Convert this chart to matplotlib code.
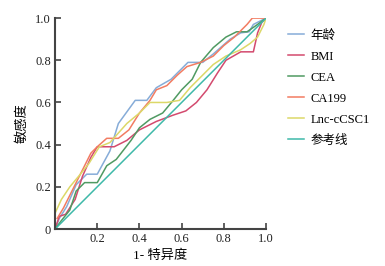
import matplotlib
matplotlib.use("Agg")
import matplotlib.pyplot as plt

plt.rcParams['font.family'] = ['Liberation Serif', 'Noto Sans CJK SC']

# ROC curve points (1-specificity, sensitivity)
age_x = [0, 0.02, 0.055, 0.1, 0.15, 0.2, 0.26, 0.30, 0.38, 0.435, 0.48, 0.55, 0.59, 0.63, 0.70, 0.75, 0.83, 0.88, 0.92, 0.94, 1.0]
age_y = [0, 0.05, 0.106, 0.21, 0.26, 0.26, 0.37, 0.50, 0.61, 0.61, 0.67, 0.71, 0.75, 0.79, 0.79, 0.83, 0.90, 0.93, 0.935, 0.97, 1.0]

bmi_x = [0, 0.02, 0.05, 0.095, 0.13, 0.17, 0.20, 0.28, 0.34, 0.40, 0.48, 0.56, 0.62, 0.67, 0.72, 0.77, 0.81, 0.88, 0.94, 0.96, 0.98, 1.0]
bmi_y = [0, 0.06, 0.07, 0.14, 0.25, 0.34, 0.39, 0.39, 0.42, 0.47, 0.51, 0.54, 0.56, 0.60, 0.66, 0.74, 0.80, 0.84, 0.84, 0.93, 0.98, 1.0]

cea_x = [0, 0.03, 0.07, 0.10, 0.14, 0.20, 0.245, 0.29, 0.36, 0.40, 0.45, 0.51, 0.56, 0.60, 0.65, 0.69, 0.75, 0.81, 0.86, 0.91, 0.96, 1.0]
cea_y = [0, 0.04, 0.09, 0.18, 0.22, 0.22, 0.30, 0.33, 0.42, 0.48, 0.52, 0.55, 0.61, 0.66, 0.71, 0.79, 0.86, 0.91, 0.935, 0.935, 0.97, 1.0]

ca199_x = [0.01, 0.04, 0.08, 0.12, 0.17, 0.20, 0.245, 0.30, 0.35, 0.40, 0.45, 0.48, 0.53, 0.58, 0.625, 0.69, 0.75, 0.80, 0.85, 0.91, 0.935, 1.0]
ca199_y = [0.05, 0.10, 0.18, 0.26, 0.36, 0.39, 0.43, 0.43, 0.47, 0.55, 0.61, 0.66, 0.68, 0.73, 0.77, 0.79, 0.82, 0.87, 0.91, 0.97, 1.0, 1.0]

lnc_x = [0, 0.03, 0.07, 0.12, 0.16, 0.21, 0.26, 0.34, 0.40, 0.45, 0.53, 0.59, 0.64, 0.69, 0.75, 0.81, 0.88, 0.925, 0.96, 0.99, 1.0]
lnc_y = [0.075, 0.14, 0.20, 0.26, 0.31, 0.39, 0.41, 0.50, 0.55, 0.60, 0.60, 0.61, 0.67, 0.72, 0.78, 0.82, 0.85, 0.88, 0.91, 0.97, 1.0]

ref_x = [0, 1]
ref_y = [0, 1]

labels = ['年龄', 'BMI', 'CEA', 'CA199', 'Lnc-cCSC1', '参考线']
colors = ['#86acd8', '#d34a6e', '#4f9a62', '#f27c62', '#dcd868', '#3fb9a9']

fig = plt.figure(figsize=(3.85, 2.66), dpi=100)
ax = fig.add_axes([0.143, 0.139, 0.548, 0.793])

series = [(age_x, age_y), (bmi_x, bmi_y), (cea_x, cea_y),
          (ca199_x, ca199_y), (lnc_x, lnc_y), (ref_x, ref_y)]
for (xs, ys), lab, col in zip(series, labels, colors):
    ax.plot(xs, ys, color=col, lw=1.1, label=lab)

ax.set_xlim(0, 1)
ax.set_ylim(0, 1)
ax.set_xticks([0.2, 0.4, 0.6, 0.8, 1.0])
ax.set_xticklabels(['0.2', '0.4', '0.6', '0.8', '1.0'])
ax.set_yticks([0, 0.2, 0.4, 0.6, 0.8, 1.0])
ax.set_yticklabels(['0', '0.2', '0.4', '0.6', '0.8', '1.0'])
for s in ['top', 'right']:
    ax.spines[s].set_visible(False)
for s in ['left', 'bottom']:
    ax.spines[s].set_color('#444444')
    ax.spines[s].set_linewidth(1.5)
ax.tick_params(direction='in', length=4, width=1.2, color='#444444',
               labelsize=9, labelcolor='#222222', pad=3)
ax.set_xlabel('1- 特异度', fontsize=9.5, labelpad=3)
ax.set_ylabel('敏感度', fontsize=9.5, labelpad=5)

ax.legend(loc='upper left', bbox_to_anchor=(1.05, 1.0), frameon=False,
          fontsize=9, handlelength=1.3, handletextpad=0.5, labelspacing=0.72)

fig.savefig('out.png', dpi=100)
